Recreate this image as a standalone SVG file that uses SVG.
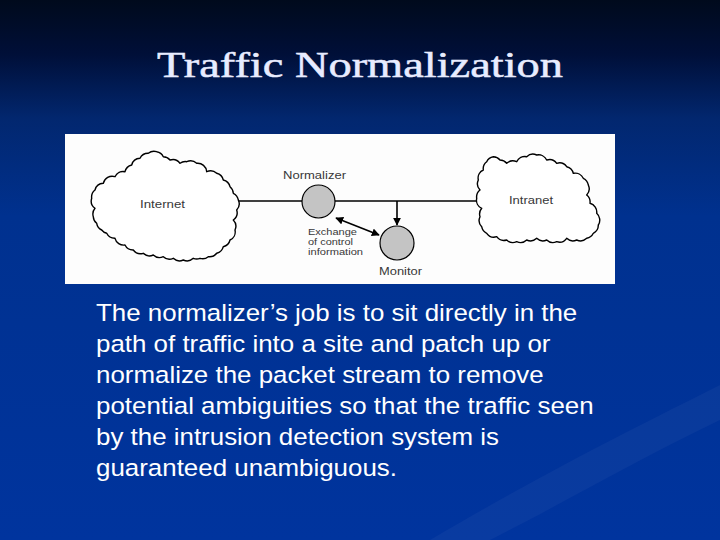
<svg xmlns="http://www.w3.org/2000/svg" width="720" height="540" viewBox="0 0 720 540">
<defs>
<linearGradient id="bg" x1="0" y1="0" x2="0" y2="1">
<stop offset="0" stop-color="#000a1c"/>
<stop offset="0.1" stop-color="#000f38"/>
<stop offset="0.22" stop-color="#02276f"/>
<stop offset="0.4" stop-color="#00318f"/>
<stop offset="1" stop-color="#00349e"/>
</linearGradient>
<marker id="ah" viewBox="0 0 10 10" refX="9" refY="5" markerWidth="5" markerHeight="5" orient="auto-start-reverse">
<path d="M0,0 L10,5 L0,10 z" fill="#000"/>
</marker>
<style>
.cloud{fill:#fff;stroke:#000;stroke-width:1.4;stroke-linejoin:round}
.node{fill:#c4c4c4;stroke:#000;stroke-width:1.2}
.lbl{font-family:"Liberation Sans",Arial,sans-serif;font-size:11px;fill:#383838}
.sm{font-family:"Liberation Sans",Arial,sans-serif;font-size:8.6px;fill:#383838}
.wire{stroke:#000;stroke-width:1.6;fill:none}
.body{font-family:"Liberation Sans",Arial,sans-serif;font-size:23.5px;fill:#fff}
</style>
</defs>
<rect x="0" y="0" width="720" height="540" fill="url(#bg)"/>
<path d="M430,540 C540,475 640,425 720,385 L720,420 C640,458 560,505 490,540 z" fill="#ffffff" opacity="0.035"/>

<text x="157" y="77" font-family="Liberation Serif,'Times New Roman',serif" font-size="36" fill="#e8ecff" stroke="#e8ecff" stroke-width="0.5" textLength="406" lengthAdjust="spacingAndGlyphs">Traffic Normalization</text>

<rect x="65" y="134" width="550" height="150" fill="#fdfdfd"/>

<g id="connectors">
<line class="wire" x1="238" y1="201" x2="302" y2="201"/>
<line class="wire" x1="335" y1="201" x2="478" y2="201"/>
<line class="wire" x1="397" y1="201" x2="397" y2="225" marker-end="url(#ah)"/>
<line class="wire" x1="336" y1="218" x2="379" y2="235" marker-start="url(#ah)" marker-end="url(#ah)"/>
</g>

<g id="internet">
<path class="cloud" d="M91.7,198.3 A9,9 0 0 1 95,190 A9,9 0 0 1 103.3,183.3 A9,9 0 0 1 115,176.7 A9,9 0 0 1 125,171.7 A9,9 0 0 1 131.7,165 A9,9 0 0 1 140,158.3 A9,9 0 0 1 148.3,153.3 A9,9 0 0 1 156.7,151.7 A9,9 0 0 1 163.3,156.7 A9,9 0 0 1 170,160 A9,9 0 0 1 180,163.3 A9,9 0 0 1 186.7,161.7 A9,9 0 0 1 196.7,163.3 A9,9 0 0 1 206.7,171.7 A9,9 0 0 1 216.7,173.3 A9,9 0 0 1 223.3,180 A9,9 0 0 1 230,186.7 A9,9 0 0 1 233.3,193.3 A9,9 0 0 1 238.3,200 A9,9 0 0 1 236.7,210 A9,9 0 0 1 233.3,220 A9,9 0 0 1 235,230 A9,9 0 0 1 230,240 A9,9 0 0 1 223.3,246.7 A9,9 0 0 1 216.7,253.3 A9,9 0 0 1 208.3,256.7 A9,9 0 0 1 200,258.3 A9,9 0 0 1 193.3,258.3 A9,9 0 0 1 183.3,260 A9,9 0 0 1 173.3,258.3 A9,9 0 0 1 163.3,256.7 A9,9 0 0 1 153.3,255 A9,9 0 0 1 143.3,253.3 A9,9 0 0 1 133.3,250 A9,9 0 0 1 125,245 A9,9 0 0 1 115,238.3 A9,9 0 0 1 106.7,233.3 A9,9 0 0 1 101.7,230 A9,9 0 0 1 96.7,223.3 A9,9 0 0 1 93.3,216.7 A9,9 0 0 1 95,208.3 A9,9 0 0 1 91.7,198.3 z"/>
<text class="lbl" x="140" y="208" textLength="45" lengthAdjust="spacingAndGlyphs">Internet</text>
</g>

<g id="intranet">
<path class="cloud" d="M476.7,198.3 A9,9 0 0 1 480,190 A9,9 0 0 1 478.3,180 A9,9 0 0 1 483.3,170 A9,9 0 0 1 486.7,161.7 A9,9 0 0 1 493.3,156.7 A9,9 0 0 1 500,160 A9,9 0 0 1 506.7,163.3 A9,9 0 0 1 516.7,161.7 A9,9 0 0 1 526.7,156.7 A9,9 0 0 1 536.7,155 A9,9 0 0 1 546.7,160 A9,9 0 0 1 556.7,163.3 A9,9 0 0 1 566.7,166.7 A9,9 0 0 1 573.3,173.3 A9,9 0 0 1 583.3,178.3 A9,9 0 0 1 588.3,185 A9,9 0 0 1 586.7,195 A9,9 0 0 1 590,203.3 A9,9 0 0 1 596.7,213.3 A9,9 0 0 1 598.3,225 A9,9 0 0 1 593.3,233.3 A9,9 0 0 1 586.7,238.3 A9,9 0 0 1 576.7,240 A9,9 0 0 1 566.7,238.3 A9,9 0 0 1 556.7,241.7 A9,9 0 0 1 546.7,240 A9,9 0 0 1 536.7,238.3 A9,9 0 0 1 526.7,240 A9,9 0 0 1 516.7,241.7 A9,9 0 0 1 506.7,240 A9,9 0 0 1 496.7,236.7 A9,9 0 0 1 486.7,233.3 A9,9 0 0 1 481.7,226.7 A9,9 0 0 1 480,216.7 A9,9 0 0 1 481.7,208.3 A9,9 0 0 1 476.7,198.3 z"/>
<text class="lbl" x="509" y="204" textLength="44" lengthAdjust="spacingAndGlyphs">Intranet</text>
</g>

<g id="normalizer">
<circle class="node" cx="318.5" cy="201.5" r="16.5"/>
<text class="lbl" x="283" y="179" textLength="63" lengthAdjust="spacingAndGlyphs">Normalizer</text>
</g>

<g id="monitor">
<circle class="node" cx="397" cy="243" r="17"/>
<text class="lbl" x="379" y="275" textLength="43" lengthAdjust="spacingAndGlyphs">Monitor</text>
</g>

<g id="exchange-label">
<text class="sm" x="308" y="234.5" textLength="49" lengthAdjust="spacingAndGlyphs">Exchange</text>
<text class="sm" x="308" y="244.5" textLength="45" lengthAdjust="spacingAndGlyphs">of control</text>
<text class="sm" x="308" y="254.5" textLength="55" lengthAdjust="spacingAndGlyphs">information</text>
</g>

<g id="body-text" transform="translate(96,0) scale(1.103,1)">
<text class="body" x="0" y="321.5">The normalizer’s job is to sit directly in the</text>
<text class="body" x="0" y="352.5">path of traffic into a site and patch up or</text>
<text class="body" x="0" y="383.5">normalize the packet stream to remove</text>
<text class="body" x="0" y="414.5">potential ambiguities so that the traffic seen</text>
<text class="body" x="0" y="445.5">by the intrusion detection system is</text>
<text class="body" x="0" y="476.5">guaranteed unambiguous.</text>
</g>
</svg>
